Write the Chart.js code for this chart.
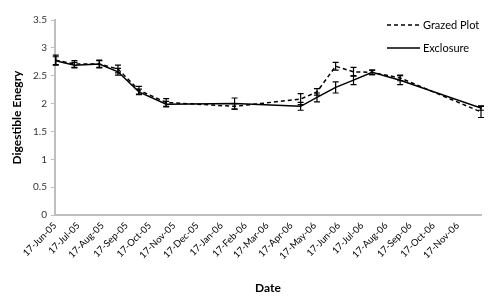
<!DOCTYPE html>
<html>
<head>
<meta charset="utf-8">
<script src="https://cdn.jsdelivr.net/npm/chart.js@4/dist/chart.umd.min.js"></script>
<style>
html,body{margin:0;padding:0;background:#fff;}
#wrap{width:500px;height:301px;position:relative;}
</style>
</head>
<body>
<div id="wrap"><canvas id="c" width="500" height="301"></canvas></div>
<script>
// ---- data ----
const tickLabels = ['17-Jun-05','17-Jul-05','17-Aug-05','17-Sep-05','17-Oct-05','17-Nov-05','17-Dec-05','17-Jan-06','17-Feb-06','17-Mar-06','17-Apr-06','17-May-06','17-Jun-06','17-Jul-06','17-Aug-06','17-Sep-06','17-Oct-06','17-Nov-06'];
const axisStart = '17-Jun-05';
const axisEnd = '17-Dec-06';
const sampleDates = ['18-Jun-05','12-Jul-05','13-Aug-05','06-Sep-05','03-Oct-05','07-Nov-05','03-Feb-06','29-Apr-06','20-May-06','13-Jun-06','06-Jul-06','30-Jul-06','04-Sep-06','17-Dec-06'];
const grazedValues = [2.78, 2.71, 2.71, 2.62, 2.24, 2.02, 1.95, 2.08, 2.21, 2.67, 2.57, 2.56, 2.46, 1.85];
const grazedErrors = [0.09, 0.06, 0.07, 0.07, 0.07, 0.07, 0.05, 0.10, 0.06, 0.07, 0.08, 0.04, 0.05, 0.10];
const exclosureValues = [2.77, 2.69, 2.71, 2.57, 2.21, 1.99, 2.00, 1.95, 2.11, 2.29, 2.42, 2.56, 2.42, 1.92];
const exclosureErrors = [0.07, 0.05, 0.06, 0.06, 0.05, 0.05, 0.10, 0.07, 0.08, 0.10, 0.08, 0.04, 0.08, 0.04];
const yTicks = [0, 0.5, 1, 1.5, 2, 2.5, 3, 3.5];
const yTickLabels = ['0', '0.5', '1', '1.5', '2', '2.5', '3', '3.5'];

// ---- helpers ----
const MONTHS = ['Jan','Feb','Mar','Apr','May','Jun','Jul','Aug','Sep','Oct','Nov','Dec'];
function dayOf(s){
  const p = s.split('-');
  return Date.UTC(2000 + parseInt(p[2],10), MONTHS.indexOf(p[1]), parseInt(p[0],10)) / 86400000;
}
const d0 = dayOf(axisStart);
const rel = s => dayOf(s) - d0;
const tickDays = tickLabels.map(rel);

function pts(vals){ return sampleDates.map((d,i)=>({x: rel(d), y: vals[i]})); }

const FONT = 'Lato, "Open Sans", "Liberation Sans", sans-serif';

const errorBars = {
  id: 'errorBars',
  afterDatasetsDraw(chart){
    const ctx = chart.ctx, xs = chart.scales.x, ys = chart.scales.y;
    chart.data.datasets.forEach(ds=>{
      const errs = ds.errors;
      ctx.save();
      ctx.strokeStyle = '#000';
      ctx.lineWidth = 1.2;
      ds.data.forEach((p,i)=>{
        const x = xs.getPixelForValue(p.x);
        const yt = ys.getPixelForValue(p.y + errs[i]);
        const yb = ys.getPixelForValue(p.y - errs[i]);
        ctx.beginPath();
        ctx.moveTo(x, yt); ctx.lineTo(x, yb);
        ctx.moveTo(x-3, yt); ctx.lineTo(x+3, yt);
        ctx.moveTo(x-3, yb); ctx.lineTo(x+3, yb);
        ctx.stroke();
      });
      ctx.restore();
    });
  }
};

const customLegend = {
  id: 'customLegend',
  afterDraw(chart){
    const ctx = chart.ctx;
    const x0 = 387, x1 = 420, tx = 423;
    const rows = [25, 48];
    ctx.save();
    ctx.font = '11px ' + FONT;
    ctx.textBaseline = 'middle';
    ctx.fillStyle = '#000';
    chart.data.datasets.forEach((ds,i)=>{
      const y = rows[i];
      ctx.beginPath();
      ctx.setLineDash(ds.borderDash || []);
      ctx.strokeStyle = ds.borderColor;
      ctx.lineWidth = ds.borderWidth;
      ctx.moveTo(x0, y); ctx.lineTo(x1, y);
      ctx.stroke();
      ctx.setLineDash([]);
      ctx.fillText(ds.label, tx, y);
    });
    ctx.restore();
  }
};

new Chart(document.getElementById('c'), {
  type: 'line',
  data: {
    datasets: [
      {label: 'Grazed Plot', data: pts(grazedValues), errors: grazedErrors, borderColor: '#000', borderWidth: 1.5, borderDash: [4,3], pointRadius: 0, fill: false, tension: 0},
      {label: 'Exclosure', data: pts(exclosureValues), errors: exclosureErrors, borderColor: '#000', borderWidth: 1.5, pointRadius: 0, fill: false, tension: 0}
    ]
  },
  options: {
    responsive: false,
    animation: false,
    layout: {padding: {top: 20, right: 19, left: 0, bottom: 0}},
    plugins: {legend: {display: false}, tooltip: {enabled: false}},
    scales: {
      x: {
        type: 'linear',
        min: 0,
        max: rel(axisEnd),
        afterBuildTicks: s => { s.ticks = tickDays.map(v=>({value: v})); },
        afterFit: s => { s.height = 86; },
        ticks: {
          autoSkip: false,
          maxRotation: 45, minRotation: 45,
          padding: 0,
          font: {family: FONT, size: 9.5},
          color: '#000',
          callback: v => { const i = tickDays.indexOf(v); return i >= 0 ? tickLabels[i] : ''; }
        },
        grid: {display: true, drawOnChartArea: false, drawTicks: true, tickLength: 5, color: 'rgba(0,0,0,0)'},
        border: {display: true, color: '#bfbfbf', width: 2},
        title: {display: true, text: 'Date', font: {family: FONT, size: 12, weight: 'bold'}, color: '#000', padding: {top: 0, bottom: 6}}
      },
      y: {
        min: 0, max: 3.5,
        afterBuildTicks: s => { s.ticks = yTicks.map(v=>({value: v})); },
        afterFit: s => { s.width = 55; },
        ticks: {
          padding: 4,
          font: {family: FONT, size: 10},
          color: '#333',
          callback: v => { const i = yTicks.indexOf(v); return i >= 0 ? yTickLabels[i] : ''; }
        },
        grid: {display: true, drawOnChartArea: false, drawTicks: true, tickLength: 4, color: '#bfbfbf'},
        border: {display: true, color: '#bfbfbf', width: 2},
        title: {display: true, text: 'Digestible Enegry', font: {family: FONT, size: 12, weight: 'bold'}, color: '#000', padding: {top: 10, bottom: 0}}
      }
    }
  },
  plugins: [errorBars, customLegend]
});
</script>
</body>
</html>
